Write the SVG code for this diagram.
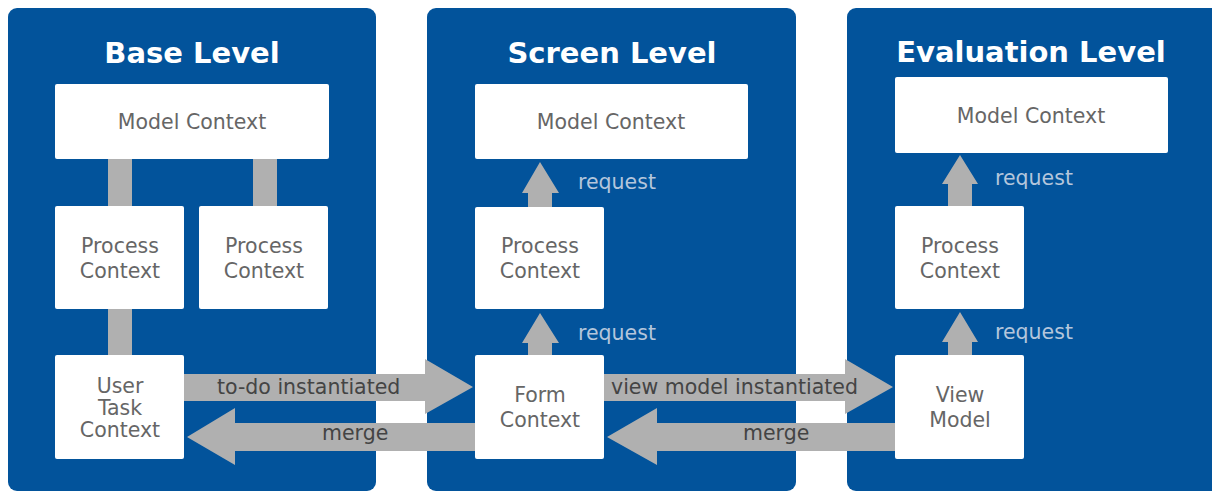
<svg xmlns="http://www.w3.org/2000/svg" width="1212" height="491" viewBox="0 0 1212 491">
<style>
.panel{fill:#02539b}
.box{fill:#ffffff}
.conn{fill:#b0b0b0}
.title{font-family:"DejaVu Sans",sans-serif;font-weight:bold;font-size:29px;fill:#ffffff;text-anchor:middle}
.lbl{font-family:"DejaVu Sans",sans-serif;font-size:20.5px;fill:#666666;text-anchor:middle}
.req{font-family:"DejaVu Sans",sans-serif;font-size:20.5px;fill:#b4c6dc}
.alab{font-family:"DejaVu Sans",sans-serif;font-size:20.5px;fill:#444444}
</style>
<rect width="1212" height="491" fill="#ffffff"/>
<g id="panels">
<rect class="panel" x="8" y="8" width="368" height="483" rx="9"/>
<rect class="panel" x="427" y="8" width="369" height="483" rx="9"/>
<rect class="panel" x="847" y="8" width="375" height="483" rx="9"/>
<text class="title" x="192" y="63">Base Level</text>
<text class="title" x="612" y="63">Screen Level</text>
<text class="title" x="1031" y="62">Evaluation Level</text>
</g>
<g id="connectors">
<rect class="conn" x="108" y="158" width="24" height="50"/>
<rect class="conn" x="253" y="158" width="24" height="50"/>
<rect class="conn" x="108" y="308" width="24" height="48"/>
<polygon class="conn" points="184,374 425,374 425,359 473,387 425,414 425,401 184,401"/>
<text class="alab" x="217" y="394">to-do instantiated</text>
<polygon class="conn" points="476,423 235,423 235,408 187,437 235,465 235,451 476,451"/>
<text class="alab" x="322" y="440">merge</text>
<polygon class="conn" points="528,207 528,193 522,193 540,162 559,193 552,193 552,207"/>
<text class="req" x="578" y="189">request</text>
<polygon class="conn" points="528,356 528,343 522,343 540,313 559,343 552,343 552,356"/>
<text class="req" x="578" y="340">request</text>
<polygon class="conn" points="604,374 845,374 845,359 893,387 845,414 845,401 604,401"/>
<text class="alab" x="611" y="394">view model instantiated</text>
<polygon class="conn" points="896,423 657,423 657,408 607,437 657,465 657,451 896,451"/>
<text class="alab" x="743" y="440">merge</text>
<polygon class="conn" points="948,207 948,184 942,184 960,155 978,184 972,184 972,207"/>
<text class="req" x="995" y="185">request</text>
<polygon class="conn" points="948,356 948,342 942,342 960,312 978,342 972,342 972,356"/>
<text class="req" x="995" y="339">request</text>
</g>
<g id="base-model">
<rect class="box" x="55" y="84" width="274" height="75" rx="2"/>
<text class="lbl" x="192" y="129">Model Context</text>
</g>
<g id="base-process1">
<rect class="box" x="55" y="206" width="129" height="103" rx="2"/>
<text class="lbl" x="120" y="253">Process</text>
<text class="lbl" x="120" y="278">Context</text>
</g>
<g id="base-process2">
<rect class="box" x="199" y="206" width="129" height="103" rx="2"/>
<text class="lbl" x="264" y="253">Process</text>
<text class="lbl" x="264" y="278">Context</text>
</g>
<g id="base-usertask">
<rect class="box" x="55" y="355" width="129" height="104" rx="2"/>
<text class="lbl" x="120" y="393">User</text>
<text class="lbl" x="120" y="415">Task</text>
<text class="lbl" x="120" y="437">Context</text>
</g>
<g id="screen-model">
<rect class="box" x="475" y="84" width="273" height="75" rx="2"/>
<text class="lbl" x="611" y="129">Model Context</text>
</g>
<g id="screen-process">
<rect class="box" x="475" y="207" width="129" height="102" rx="2"/>
<text class="lbl" x="540" y="253">Process</text>
<text class="lbl" x="540" y="278">Context</text>
</g>
<g id="screen-form">
<rect class="box" x="475" y="355" width="129" height="104" rx="2"/>
<text class="lbl" x="540" y="402">Form</text>
<text class="lbl" x="540" y="427">Context</text>
</g>
<g id="eval-model">
<rect class="box" x="895" y="77" width="273" height="76" rx="2"/>
<text class="lbl" x="1031" y="123">Model Context</text>
</g>
<g id="eval-process">
<rect class="box" x="895" y="206" width="129" height="103" rx="2"/>
<text class="lbl" x="960" y="253">Process</text>
<text class="lbl" x="960" y="278">Context</text>
</g>
<g id="eval-viewmodel">
<rect class="box" x="895" y="355" width="129" height="104" rx="2"/>
<text class="lbl" x="960" y="402">View</text>
<text class="lbl" x="960" y="427">Model</text>
</g>
</svg>
